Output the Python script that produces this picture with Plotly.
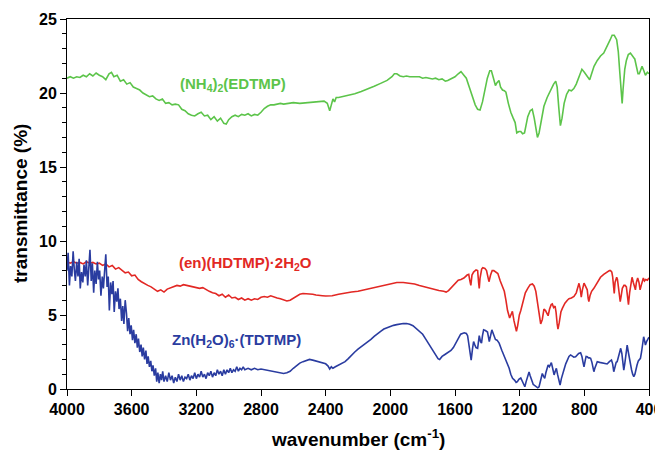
import plotly.graph_objects as go

# ---------------- data ----------------
green_x = [4000,3980,3960,3940,3920,3900,3880,3860,3840,3820,3800,3780,3760,3740,3725,3710,3690,3670,3650,3630,
           3610,3590,3570,3550,3530,3510,3490,3470,3450,3430,3410,3390,3370,3350,3330,3310,3290,3270,3250,3230,
           3210,3190,3170,3150,3130,3110,3090,3070,3050,3030,3015,3000,2980,2960,2940,2920,2900,2880,2860,2840,
           2820,2800,2780,2760,2740,2720,2700,2680,2660,2640,2600,2560,2520,2480,2440,2410,2390,2375,2365,2355,
           2345,2335,2320,2300,2260,2220,2180,2140,2100,2060,2020,1990,1975,1960,1940,1920,1900,1880,1860,1840,
           1820,1800,1780,1760,1740,1720,1700,1680,1660,1645,1620,1600,1580,1563,1545,1530,1515,1500,1490,1475,
           1460,1445,1430,1415,1400,1385,1375,1362,1350,1340,1328,1318,1306,1295,1285,1270,1255,1240,1228,1218,
           1205,1193,1182,1170,1160,1150,1135,1122,1110,1100,1090,1080,1065,1050,1030,1010,990,977,968,958,
           948,938,925,910,895,880,865,850,830,815,800,780,767,755,740,720,700,680,660,640,
           628,615,600,590,580,572,566,560,550,540,528,515,505,495,488,478,468,460,450,443,
           432,422,410,400]
green_y = [21.0,21.1,21.0,21.1,21.05,21.2,21.1,21.3,21.15,21.35,21.2,21.1,20.9,21.3,21.4,21.1,21.2,20.8,20.9,20.6,
           20.7,20.4,20.3,20.2,20.0,19.9,19.75,19.8,19.6,19.5,19.6,19.3,19.35,19.2,19.25,19.2,18.9,18.8,18.6,18.5,
           18.45,18.6,18.7,18.45,18.5,18.2,18.4,18.1,18.3,17.95,17.9,18.2,18.4,18.5,18.4,18.55,18.5,18.6,18.45,18.55,
           18.5,18.7,18.95,19.1,19.2,19.2,19.25,19.3,19.25,19.3,19.35,19.3,19.35,19.4,19.4,19.45,19.3,18.8,19.2,19.6,
           19.4,19.7,19.7,19.75,19.8,19.95,20.1,20.25,20.45,20.65,20.85,21.1,21.3,21.3,21.15,21.1,21.15,21.1,21.1,21.05,
           21.1,21.0,21.05,21.0,20.95,21.0,20.9,20.95,20.8,20.85,21.0,21.1,21.3,21.45,21.2,21.0,20.5,20.0,19.7,19.2,
           18.9,18.85,19.4,20.3,21.0,21.5,21.5,21.0,20.5,20.7,20.85,20.4,20.2,20.15,20.05,19.3,18.7,18.3,18.0,17.3,
           17.4,17.4,17.25,17.3,17.9,18.4,18.8,18.9,18.3,17.6,17.0,17.3,18.3,19.1,19.7,20.2,20.6,20.8,20.4,19.0,
           17.8,18.3,19.3,19.9,20.2,20.15,20.3,20.6,21.1,21.6,21.4,21.1,20.9,21.3,21.8,22.2,22.5,22.7,23.1,23.6,
           23.9,23.9,23.6,22.8,21.3,19.8,19.3,20.3,21.6,22.2,22.6,22.7,22.5,22.4,22.3,21.8,21.3,21.3,21.6,21.8,
           21.5,21.2,21.4,21.3]

red_x = [4000,3980,3960,3940,3920,3900,3880,3860,3840,3820,3800,3780,3760,3740,3720,3700,3680,3660,3640,3620,
         3600,3580,3560,3540,3520,3500,3480,3460,3440,3420,3400,3380,3360,3340,3320,3300,3280,3260,3240,3220,
         3200,3180,3160,3140,3120,3100,3080,3060,3040,3020,3000,2980,2960,2940,2920,2900,2880,2860,2840,2820,
         2800,2780,2760,2740,2720,2700,2680,2660,2640,2620,2600,2580,2560,2540,2520,2500,2480,2460,2440,2420,
         2400,2360,2320,2280,2240,2200,2160,2120,2080,2040,2000,1960,1920,1880,1850,1820,1790,1760,1730,1700,
         1670,1655,1640,1620,1600,1580,1563,1545,1525,1515,1508,1502,1495,1485,1470,1460,1454,1450,1445,1435,
         1428,1415,1405,1397,1390,1380,1370,1360,1345,1335,1320,1305,1295,1285,1275,1262,1255,1245,1235,1225,
         1220,1212,1202,1193,1180,1165,1150,1135,1121,1110,1100,1090,1080,1070,1060,1050,1040,1030,1024,1015,
         1005,998,990,981,975,968,963,955,945,936,920,905,895,880,864,850,840,833,826,819,
         812,802,795,787,782,776,772,765,755,741,720,700,680,660,645,638,630,625,620,615,
         610,600,595,590,585,578,572,565,555,548,540,533,527,520,510,505,497,490,484,478,
         470,462,455,448,440,435,428,420,410,400]
red_y = [8.6,8.5,8.6,8.5,8.55,8.45,8.6,8.5,8.55,8.45,8.5,8.35,8.45,8.25,8.35,8.1,8.2,8.0,7.85,7.9,
         7.65,7.7,7.4,7.25,7.1,7.0,6.9,6.75,6.6,6.7,6.55,6.75,6.85,6.95,7.0,6.95,7.05,7.0,6.95,6.95,
         6.9,6.8,6.85,6.7,6.6,6.5,6.45,6.3,6.4,6.2,6.35,6.15,6.2,6.05,6.15,6.0,6.1,6.0,6.1,6.05,
         6.2,6.25,6.2,6.3,6.2,6.15,6.1,6.0,5.95,6.0,6.15,6.3,6.4,6.45,6.45,6.4,6.4,6.35,6.3,6.3,
         6.28,6.3,6.4,6.5,6.55,6.6,6.7,6.8,6.9,7.0,7.1,7.2,7.2,7.15,7.1,7.0,6.9,6.8,6.7,6.65,
         6.6,6.55,6.65,6.9,7.1,7.35,7.4,7.5,7.7,7.75,7.3,7.0,7.7,7.9,8.05,8.0,7.2,6.8,7.5,8.1,
         8.2,8.15,8.0,7.6,7.25,7.7,8.0,8.0,7.85,7.8,7.3,6.9,6.6,6.0,5.3,4.8,5.0,5.25,4.6,4.0,
         3.9,4.3,5.0,5.3,5.9,6.5,6.8,7.05,7.1,6.95,6.6,5.8,4.9,4.4,4.7,5.4,5.3,5.0,4.95,5.4,
         5.7,5.75,5.5,5.6,5.2,4.4,4.05,4.5,5.2,5.45,5.8,6.0,6.1,6.15,6.25,6.5,6.9,7.14,6.8,6.2,
         6.7,7.15,7.0,6.8,6.7,6.1,5.9,6.3,6.6,6.8,7.2,7.55,7.75,7.9,8.0,8.0,7.9,7.6,7.0,6.45,
         7.2,7.55,7.4,6.8,6.2,5.9,6.3,6.8,7.0,7.0,6.9,6.4,5.7,6.5,7.3,7.55,7.2,6.9,6.7,7.2,
         7.5,7.2,6.7,7.0,7.45,7.5,7.3,7.4,7.35,7.5]

blue_x = [4000,3993,3985,3978,3970,3962,3955,3948,3940,3932,3925,3918,3910,3902,3895,3887,3880,3872,3865,3858,
          3850,3843,3835,3828,3820,3812,3805,3798,3790,3782,3775,3768,3760,3752,3745,3738,3730,3722,3715,3708,
          3700,3692,3685,3678,3670,3662,3655,3648,3640,3632,3625,3618,3610,3603,3595,3588,3580,3572,3565,3558,
          3550,3542,3535,3528,3520,3512,3505,3498,3490,3482,3475,3468,3460,3452,3445,3438,3430,3422,3415,3408,
          3400,3390,3380,3370,3360,3350,3340,3330,3320,3310,3300,3290,3280,3270,3260,3250,3240,3230,3220,3210,
          3200,3190,3180,3170,3160,3150,3140,3130,3120,3110,3100,3090,3080,3070,3060,3050,3040,3030,3020,3010,
          3000,2990,2980,2970,2960,2950,2940,2930,2920,2910,2900,2880,2860,2840,2820,2800,2780,2760,2740,2720,
          2700,2680,2660,2640,2620,2600,2580,2560,2540,2520,2500,2480,2460,2440,2420,2400,2385,2375,2365,2355,
          2340,2320,2300,2280,2260,2240,2220,2200,2180,2160,2140,2120,2100,2080,2060,2040,2020,2000,1980,1960,
          1940,1920,1900,1880,1860,1840,1820,1800,1780,1760,1740,1720,1705,1695,1680,1660,1640,1625,1610,1595,
          1583,1565,1543,1530,1522,1512,1505,1500,1492,1485,1478,1470,1460,1455,1450,1442,1436,1430,1423,1412,
          1405,1399,1393,1388,1380,1372,1362,1350,1340,1327,1310,1295,1280,1265,1255,1244,1232,1222,1214,1205,
          1193,1184,1175,1168,1160,1150,1142,1135,1125,1116,1108,1098,1088,1080,1072,1064,1060,1052,1045,1038,
          1030,1024,1016,1010,1004,996,987,980,973,966,958,950,942,934,926,915,905,895,885,875,
          865,854,845,835,823,815,808,802,795,789,782,775,768,761,753,747,741,735,728,720,
          705,690,675,659,645,632,625,618,610,603,597,590,583,575,568,563,556,550,543,535,
          528,521,515,508,501,494,487,480,474,466,460,453,446,440,433,428,422,415,408,400]
blue_y = [8.0,9.2,7.0,8.3,7.6,9.3,8.1,7.3,8.6,7.6,8.8,6.8,7.9,7.2,8.4,7.6,8.7,7.0,8.2,9.4,
          7.3,8.5,6.5,8.0,7.1,8.6,7.4,8.0,6.3,7.6,6.8,8.2,9.1,6.9,7.6,5.3,7.2,6.4,7.3,5.2,
          6.6,5.9,6.8,5.4,6.1,4.6,5.6,4.4,6.0,5.1,3.9,4.8,3.7,4.3,3.3,4.0,3.1,3.7,2.8,3.4,
          2.5,3.0,2.2,2.8,2.0,2.6,1.7,2.2,1.5,1.9,1.2,1.6,0.9,1.4,0.5,1.1,0.4,1.0,0.6,1.2,
          0.5,0.9,0.5,1.1,0.6,0.9,0.4,0.8,0.5,1.0,0.6,0.9,0.5,0.8,0.7,1.0,0.6,0.9,0.7,1.1,
          0.7,1.0,0.8,1.2,0.8,1.0,0.7,1.1,0.9,1.2,0.8,1.1,0.9,1.3,1.0,1.2,0.9,1.3,1.0,1.3,
          1.1,1.4,1.1,1.3,1.2,1.5,1.2,1.4,1.3,1.5,1.3,1.4,1.3,1.4,1.3,1.35,1.3,1.25,1.2,1.15,
          1.1,1.1,1.05,1.1,1.2,1.4,1.6,1.75,1.85,1.95,2.0,1.95,1.9,1.8,1.75,1.7,1.55,1.35,1.5,1.4,
          1.5,1.6,1.75,1.85,2.05,2.3,2.5,2.7,2.85,3.0,3.15,3.35,3.55,3.75,3.9,4.05,4.15,4.2,4.3,4.35,
          4.4,4.42,4.42,4.38,4.28,4.1,3.9,3.7,3.35,3.0,2.6,2.25,2.05,2.0,2.2,2.35,2.5,2.6,2.8,3.1,
          3.4,3.7,3.8,3.75,3.6,2.8,2.1,1.95,2.7,3.2,3.0,2.8,2.75,3.3,3.6,3.2,3.1,3.6,4.0,3.95,
          3.9,3.85,3.5,3.2,3.6,4.0,3.7,3.35,3.3,3.1,2.6,2.2,1.8,1.4,1.0,0.72,0.6,0.45,0.5,0.65,
          0.75,0.5,0.25,0.15,0.5,0.9,1.15,0.9,0.5,0.3,0.25,0.15,0.08,0.15,0.5,0.9,1.05,0.85,0.72,1.1,
          1.5,1.62,1.5,1.65,1.78,1.4,0.95,1.2,1.4,1.0,0.5,0.27,0.7,1.1,1.3,1.7,2.0,2.2,2.3,2.25,
          2.15,2.18,2.3,2.4,2.45,2.2,1.8,1.5,1.9,2.2,2.18,2.1,2.1,2.07,1.8,1.4,1.17,1.4,1.7,1.84,
          1.8,1.75,1.72,1.69,1.85,1.96,1.7,1.17,1.5,1.8,1.84,2.1,2.4,2.75,2.4,1.8,1.28,1.7,2.4,2.97,
          2.5,2.0,1.5,1.3,1.0,0.83,1.0,1.4,1.62,1.9,2.0,2.07,2.5,3.0,3.53,3.3,2.97,3.2,3.4,3.5]

x_ticks = [4000, 3600, 3200, 2800, 2400, 2000, 1600, 1200, 800, 400]
y_ticks = [0, 5, 10, 15, 20, 25]

series_names = ["(NH<sub>4</sub>)<sub>2</sub>(EDTMP)",
                "(en)(HDTMP)·2H<sub>2</sub>O",
                "Zn(H<sub>2</sub>O)<sub>6</sub>·(TDTMP)"]
label_x = [2973, 2893, 2949]
label_y = [20.55, 8.5, 3.3]

x_title = "wavenumber (cm<sup>-1</sup>)"
y_title = "transmittance (%)"

GREEN = "rgb(92,196,74)"
RED = "rgb(226,40,36)"
BLUE = "rgb(42,60,160)"
colors = [GREEN, RED, BLUE]

FONT = "Arial, Liberation Sans, Helvetica, sans-serif"

fig = go.Figure()
for xs, ys, c, n in [(green_x, green_y, GREEN, series_names[0]),
                     (red_x, red_y, RED, series_names[1]),
                     (blue_x, blue_y, BLUE, series_names[2])]:
    fig.add_trace(go.Scatter(x=xs, y=ys, mode="lines", name=n,
                             line=dict(color=c, width=1.6), showlegend=False))

for n, lx, ly, c in zip(series_names, label_x, label_y, colors):
    fig.add_annotation(x=lx, y=ly, xref="x", yref="y", text=n, showarrow=False,
                       font=dict(family=FONT, size=15, color=c, weight="bold"))

# axis titles
fig.add_annotation(x=0.5, y=0, xref="paper", yref="paper", yshift=-49,
                   xanchor="center", yanchor="middle", showarrow=False, text=x_title,
                   font=dict(family=FONT, size=19, color="black", weight="bold"))
fig.add_annotation(x=0, y=0.5, xref="paper", yref="paper", xshift=-47,
                   xanchor="center", yanchor="middle", showarrow=False, text=y_title,
                   textangle=-90,
                   font=dict(family=FONT, size=19, color="black", weight="bold"))

# page body has an 8px default margin, so the figure is sized to fit inside it
fig.update_layout(
    width=655, height=442,
    margin=dict(l=59, r=14, t=11, b=61),
    paper_bgcolor="white", plot_bgcolor="white",
    font=dict(family=FONT, color="black"),
)
fig.update_xaxes(
    range=[4000, 400], tickvals=x_ticks, ticktext=[str(v) for v in x_ticks],
    ticks="outside", ticklen=6, tickwidth=1, tickcolor="black",
    showline=True, linecolor="black", linewidth=1, mirror=True,
    showgrid=False, zeroline=False, automargin=False,
    tickfont=dict(family=FONT, size=16, color="black", weight="bold"),
)
fig.update_yaxes(
    range=[0, 25], tickvals=y_ticks,
    ticks="outside", ticklen=6, tickwidth=1, tickcolor="black",
    minor=dict(dtick=1, ticks="outside", ticklen=4, tickcolor="black", tickwidth=1, showgrid=False),
    showline=True, linecolor="black", linewidth=1, mirror=True,
    showgrid=False, zeroline=False, automargin=False,
    tickfont=dict(family=FONT, size=16, color="black", weight="bold"),
)

fig.write_html("out.html")
